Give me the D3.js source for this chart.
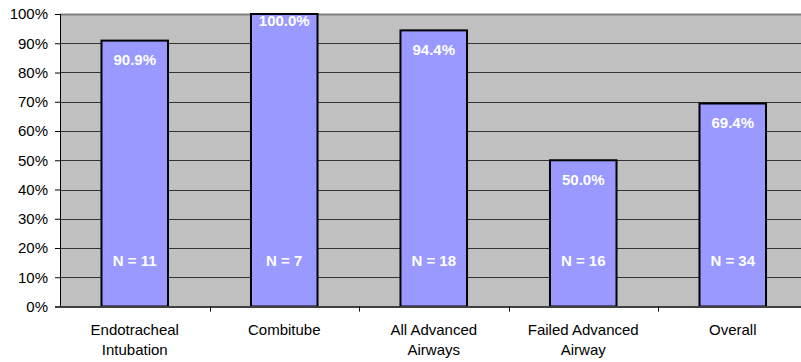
<!DOCTYPE html>
<html>
<head>
<meta charset="utf-8">
<script src="https://cdn.jsdelivr.net/npm/d3@7"></script>
<style>
  body { margin: 0; background: #fff; }
  text { font-family: Arial, "Liberation Sans", sans-serif; }
</style>
</head>
<body>
<svg id="chart" width="801" height="362"></svg>
<script>
// chart data
const categories = [
  ['Endotracheal', 'Intubation'],
  ['Combitube'],
  ['All Advanced', 'Airways'],
  ['Failed Advanced', 'Airway'],
  ['Overall']
]
const values = [90.9, 100.0, 94.4, 50.0, 69.4]
const counts = ['N = 11', 'N = 7', 'N = 18', 'N = 16', 'N = 34']
const yTicks = [0, 10, 20, 30, 40, 50, 60, 70, 80, 90, 100]

const svg = d3.select('#chart')

const plotLeft = 60
const plotRight = 807.5
const plotTop = 14
const plotBottom = 306.5

const x = d3.scaleBand()
  .domain(d3.range(categories.length))
  .range([plotLeft, plotRight])
  .paddingInner(0.555)
  .paddingOuter(0.2775)

const xOuter = d3.scaleBand()
  .domain(d3.range(categories.length))
  .range([plotLeft, plotRight])

const y = d3.scaleLinear()
  .domain([0, 100])
  .range([plotBottom, plotTop])

// plot background
svg.append('rect')
  .attr('x', plotLeft)
  .attr('y', plotTop)
  .attr('width', plotRight - plotLeft)
  .attr('height', plotBottom - plotTop)
  .attr('fill', '#c0c0c0')

// gridlines
svg.append('g')
  .selectAll('line')
  .data(yTicks.filter(d => d > 0 && d < 100))
  .join('line')
  .attr('x1', plotLeft)
  .attr('x2', plotRight)
  .attr('y1', d => Math.round(y(d)) + 0.5)
  .attr('y2', d => Math.round(y(d)) + 0.5)
  .attr('stroke', '#333')
  .attr('stroke-width', 1)

// top border
svg.append('line')
  .attr('x1', plotLeft).attr('x2', plotRight)
  .attr('y1', plotTop + 0.5).attr('y2', plotTop + 0.5)
  .attr('stroke', '#808080')
  .attr('stroke-width', 2)

// bars
svg.append('g')
  .selectAll('rect')
  .data(values)
  .join('rect')
  .attr('x', (d, i) => x(i))
  .attr('y', d => y(d))
  .attr('width', x.bandwidth())
  .attr('height', d => plotBottom - y(d))
  .attr('fill', '#9999ff')
  .attr('stroke', '#000')
  .attr('stroke-width', 2)

// value labels (the full-height bar has its label pushed up to the top)
svg.append('g')
  .selectAll('text')
  .data(values)
  .join('text')
  .attr('x', (d, i) => x(i) + x.bandwidth() / 2)
  .attr('y', d => y(d) <= plotTop ? plotTop + 11.5 : y(d) + 24.5)
  .attr('text-anchor', 'middle')
  .attr('fill', '#fff')
  .attr('font-weight', 'bold')
  .attr('font-size', 15)
  .text(d => d.toFixed(1) + '%')

// N labels
svg.append('g')
  .selectAll('text')
  .data(counts)
  .join('text')
  .attr('x', (d, i) => x(i) + x.bandwidth() / 2)
  .attr('y', 265.5)
  .attr('text-anchor', 'middle')
  .attr('fill', '#fff')
  .attr('font-weight', 'bold')
  .attr('font-size', 15)
  .text(d => d)

// y axis
const yAxis = d3.axisLeft(y)
  .tickValues(yTicks)
  .tickSize(5)
  .tickFormat(d => d + '%')

const yg = svg.append('g')
  .attr('transform', `translate(${plotLeft},0)`)
  .call(yAxis)
yg.select('.domain').attr('stroke', '#000')
yg.selectAll('.tick line').attr('stroke', '#000')
yg.selectAll('.tick text')
  .attr('font-size', 15)
  .attr('font-family', 'Arial, "Liberation Sans", sans-serif')
  .attr('fill', '#000')
  .attr('x', -12)

// x axis line
svg.append('line')
  .attr('x1', plotLeft).attr('x2', plotRight)
  .attr('y1', plotBottom + 0.5).attr('y2', plotBottom + 0.5)
  .attr('stroke', '#404040')
  .attr('stroke-width', 2)

// x tick marks at category boundaries
svg.append('g')
  .selectAll('line')
  .data(d3.range(1, categories.length))
  .join('line')
  .attr('x1', i => Math.round(xOuter(i)) + 0.5)
  .attr('x2', i => Math.round(xOuter(i)) + 0.5)
  .attr('y1', plotBottom)
  .attr('y2', plotBottom + 5)
  .attr('stroke', '#000')

// category labels
const cat = svg.append('g')
  .selectAll('text')
  .data(categories)
  .join('text')
  .attr('text-anchor', 'middle')
  .attr('font-size', 15)
  .attr('fill', '#000')

cat.selectAll('tspan')
  .data((d, i) => d.map(line => ({ line, i })))
  .join('tspan')
  .attr('x', d => x(d.i) + x.bandwidth() / 2)
  .attr('y', (d, j) => 334.5 + j * 20)
  .text(d => d.line)
</script>
</body>
</html>
